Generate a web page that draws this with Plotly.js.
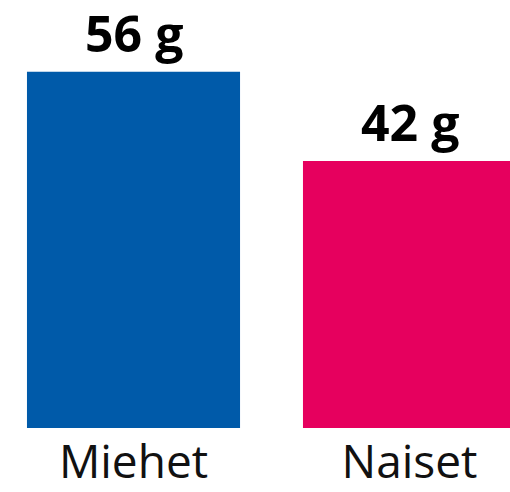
<!DOCTYPE html>
<html>
<head>
<meta charset="utf-8">
<script src="https://cdn.plot.ly/plotly-3.0.1.min.js"></script>
<style>html,body{margin:0;padding:0;background:#fff;}#chart{width:510px;height:492px;}</style>
</head>
<body>
<div id="chart"></div>
<script>
var categories = ["Miehet", "Naiset"];
var values = [56, 42];
var unit = " g";
var colors = ["#005AA9", "#E6005E"];

var trace = {
  type: "bar",
  x: categories,
  y: values,
  width: 0.772,
  marker: {color: colors, line: {width: 0}},
  hoverinfo: "none"
};

var annotations = categories.map(function (c, i) {
  return {
    x: c, y: values[i], xref: "x", yref: "y",
    text: values[i] + unit,
    showarrow: false, yanchor: "bottom", xanchor: "center",
    yshift: 3,
    font: {family: "Open Sans", size: 50, color: "#000", weight: "bold"}
  };
});

var layout = {
  width: 510, height: 492,
  margin: {l: 0, r: 0, t: 0, b: 64, pad: 0},
  paper_bgcolor: "#fff", plot_bgcolor: "#fff",
  showlegend: false,
  xaxis: {
    type: "category",
    range: [-0.4837, 1.3641],
    showgrid: false, zeroline: false, showline: false,
    ticks: "", ticklabelstandoff: 3,
    tickfont: {family: "Open Sans", size: 46, color: "#111"},
    fixedrange: true
  },
  yaxis: {
    range: [0, 67.3],
    showgrid: false, zeroline: false, showline: false,
    showticklabels: false, ticks: "", fixedrange: true
  },
  annotations: annotations
};

Plotly.newPlot("chart", [trace], layout, {displayModeBar: false, staticPlot: true});
</script>
</body>
</html>
